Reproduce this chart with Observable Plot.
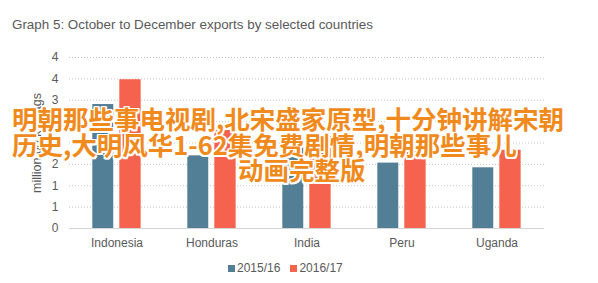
<!DOCTYPE html>
<html><head><meta charset="utf-8">
<script src="https://cdn.jsdelivr.net/npm/d3@7"></script>
<script src="https://cdn.jsdelivr.net/npm/@observablehq/plot@0.6"></script>
<style>
body{margin:0;background:#fff;}
#wrap{position:relative;width:598px;height:283px;overflow:hidden;font-family:"Liberation Sans",Arial,sans-serif;color:#595959;}
#wrap svg{position:absolute;left:0;top:0;}
.abs{position:absolute;white-space:nowrap;}
#title{left:12px;top:17px;font-size:13.4px;line-height:16px;color:#595959;}
#ylab{left:37px;top:143px;font-size:12.5px;transform:translate(-50%,-50%) rotate(-90deg);}
#legend{left:228px;top:261px;font-size:12px;line-height:14px;display:flex;align-items:center;}
#legend span.sw{display:inline-block;width:7px;height:7px;margin-right:2px;}
#legend span.lab{margin-right:10px;}
.cn{font-family:"Noto Sans CJK SC",sans-serif;font-weight:700;font-size:25.5px;line-height:30px;color:#f08a1c;
 text-shadow:-1.5px -1.5px 0 #fff,1.5px -1.5px 0 #fff,-1.5px 1.5px 0 #fff,1.5px 1.5px 0 #fff,0 -1.5px 0 #fff,0 1.5px 0 #fff,-1.5px 0 0 #fff,1.5px 0 0 #fff;}
</style></head><body><div id="wrap"></div>
<script>
const countries = ["Indonesia","Honduras","India","Peru","Uganda"];
const series = ["2015/16","2016/17"];
const values1516 = [2.90,1.70,1.99,1.53,1.42];
const values1617 = [3.48,2.30,2.15,2.20,1.83];
const yTicks = [0,0.5,1,1.5,2,2.5,3,3.5,4];
const colors = ["#537f96","#f5634f"];
const titleText = "Graph 5: October to December exports by selected countries";
const yLabel = "million 60 kg bags";
const overlayLines = ["明朝那些事电视剧,北宋盛家原型,十分钟讲解宋朝","历史,大明风华1-62集免费剧情,明朝那些事儿","动画完整版"];

const data = countries.flatMap((c,i)=>[
  {country:c, series:series[0], value:values1516[i]},
  {country:c, series:series[1], value:values1617[i]}
]);

const chart = Plot.plot({
  width:598, height:283, marginTop:57, marginBottom:55, marginLeft:69, marginRight:54,
  style:{fontFamily:"Liberation Sans, Arial, sans-serif", fontSize:"12px", color:"#595959", background:"transparent"},
  x:{domain:countries, padding:0, label:null},
  y:{domain:[0,4], label:null},
  color:{domain:series, range:colors},
  marks:[
    Plot.ruleY(yTicks.filter(d=>d>0), {stroke:"#c4c4c4", strokeDasharray:"1,2"}),
    Plot.barY(data.filter(d=>d.series===series[0]), {x:"country", y:"value", fill:"series", insetLeft:23.3, insetRight:50.75}),
    Plot.barY(data.filter(d=>d.series===series[1]), {x:"country", y:"value", fill:"series", insetLeft:50.3, insetRight:23.35}),
    Plot.ruleY([0], {stroke:"#d4d4d4"}),
    Plot.axisY({ticks:yTicks, tickFormat:d=>String(Math.round(d)), tickSize:0, tickPadding:11, label:null}),
    Plot.axisX({tickSize:0, tickPadding:10, label:null})
  ]
});
const wrap = document.getElementById("wrap");
wrap.appendChild(chart);

function addDiv(id, cls, text, style){
  const d=document.createElement("div");
  if(id) d.id=id;
  d.className="abs "+(cls||"");
  if(text!==null) d.textContent=text;
  if(style) Object.assign(d.style, style);
  wrap.appendChild(d);
  return d;
}
addDiv("title","",titleText);
addDiv("ylab","",yLabel);
const lg = addDiv("legend","",null);
series.forEach((s,i)=>{
  const sw=document.createElement("span"); sw.className="sw"; sw.style.background=colors[i]; lg.appendChild(sw);
  const lb=document.createElement("span"); lb.className="lab"; lb.textContent=s; lg.appendChild(lb);
});
addDiv(null,"cn",overlayLines[0],{left:"12px",top:"103px"});
addDiv(null,"cn",overlayLines[1],{left:"12px",top:"129px"});
addDiv(null,"cn",overlayLines[2],{left:"238px",top:"154px"});
</script>
</body></html>
